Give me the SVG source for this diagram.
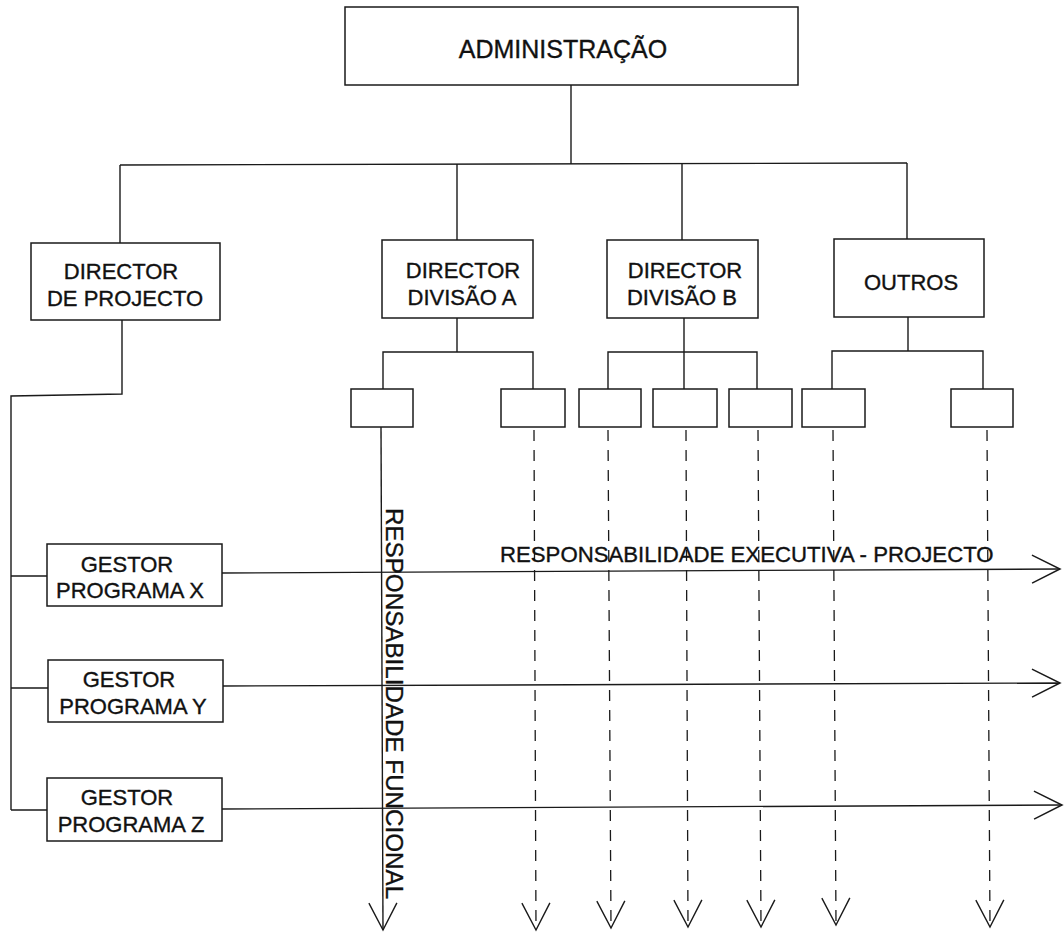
<svg xmlns="http://www.w3.org/2000/svg" width="1064" height="935" viewBox="0 0 1064 935">
<style>
.box{fill:#fff;stroke:#1a1a1a;stroke-width:1.5}
.t{font-family:"Liberation Sans",Arial,sans-serif;font-size:22px;fill:#111;stroke:#111;stroke-width:0.35;text-anchor:middle}
.ln{fill:none;stroke:#1a1a1a;stroke-width:1.4}
.dash{fill:none;stroke:#1a1a1a;stroke-width:1.3;stroke-dasharray:11 9}
</style>
<defs>
<marker id="v" viewBox="-32 -17 36 34" markerWidth="36" markerHeight="34" refX="0" refY="0" orient="auto" markerUnits="userSpaceOnUse">
<path d="M-28,-14 L0,0 L-28,14" fill="none" stroke="#1a1a1a" stroke-width="1.5" stroke-dasharray="none"/>
</marker>
<marker id="vd" viewBox="-32 -17 36 34" markerWidth="36" markerHeight="34" refX="0" refY="0" orient="auto" markerUnits="userSpaceOnUse">
<path d="M-27,-14 L0,0 L-27,14" fill="none" stroke="#1a1a1a" stroke-width="1.4" stroke-dasharray="none"/>
</marker>
</defs>
<rect width="1064" height="935" fill="#fff"/>
<g id="connectors">
<path class="ln" d="M571,85 V164"/>
<path class="ln" d="M120,165 L907,163"/>
<path class="ln" d="M120,165 V243 M457,164 V240 M682,164 V240 M907,163 V239"/>
<path class="ln" d="M122,320 V394 L11,396 V810"/>
<path class="ln" d="M11,576 H47 M11,688 H48 M11,810 H47"/>
<path class="ln" d="M457,318 V352 M383,389 V352 H533 V389"/>
<path class="ln" d="M684,318 V389 M608,389 V352 H757 V389"/>
<path class="ln" d="M908,317 V351 M832,389 V351 H983 V389"/>
<path class="ln" d="M381,427 L383,930" marker-end="url(#vd)"/>
<path class="ln" d="M222,573 L1060,569" marker-end="url(#v)"/>
<path class="ln" d="M223,686 L1060,683" marker-end="url(#v)"/>
<path class="ln" d="M222,809 L1062,805" marker-end="url(#v)"/>
<path class="dash" d="M534,430 L536,930" marker-end="url(#vd)"/>
<path class="dash" d="M608,430 L611,928" marker-end="url(#vd)"/>
<path class="dash" d="M686,430 L688,927" marker-end="url(#vd)"/>
<path class="dash" d="M758,430 L761,927" marker-end="url(#vd)"/>
<path class="dash" d="M833,430 L836,925" marker-end="url(#vd)"/>
<path class="dash" d="M987,430 L990,927" marker-end="url(#vd)"/>
</g>
<g id="administracao"><rect class="box" x="345" y="7" width="453" height="78"/><text class="t" x="563" y="58" style="font-size:25px">ADMINISTRAÇÃO</text></g>
<g id="director-projecto"><rect class="box" x="31" y="243" width="189" height="77"/><text class="t" x="121" y="279">DIRECTOR</text><text class="t" x="125" y="306">DE PROJECTO</text></g>
<g id="director-a"><rect class="box" x="382" y="240" width="151" height="78"/><text class="t" x="463" y="278">DIRECTOR</text><text class="t" x="462" y="305">DIVISÃO A</text></g>
<g id="director-b"><rect class="box" x="607" y="240" width="151" height="78"/><text class="t" x="685" y="278">DIRECTOR</text><text class="t" x="682" y="305">DIVISÃO B</text></g>
<g id="outros"><rect class="box" x="834" y="239" width="150" height="78"/><text class="t" x="911" y="290">OUTROS</text></g>
<g id="sub-a1"><rect class="box" x="351" y="389" width="62" height="38"/></g>
<g id="sub-a2"><rect class="box" x="501" y="389" width="64" height="38"/></g>
<g id="sub-b1"><rect class="box" x="579" y="389" width="62" height="38"/></g>
<g id="sub-b2"><rect class="box" x="653" y="389" width="64" height="38"/></g>
<g id="sub-b3"><rect class="box" x="729" y="389" width="63" height="38"/></g>
<g id="sub-o1"><rect class="box" x="802" y="389" width="63" height="38"/></g>
<g id="sub-o2"><rect class="box" x="951" y="389" width="62" height="38"/></g>
<g id="gestor-x"><rect class="box" x="47" y="544" width="175" height="62"/><text class="t" x="127" y="572">GESTOR</text><text class="t" x="130" y="598">PROGRAMA X</text></g>
<g id="gestor-y"><rect class="box" x="48" y="660" width="175" height="62"/><text class="t" x="129" y="687">GESTOR</text><text class="t" x="133" y="714">PROGRAMA Y</text></g>
<g id="gestor-z"><rect class="box" x="47" y="778" width="175" height="63"/><text class="t" x="127" y="805">GESTOR</text><text class="t" x="131" y="832">PROGRAMA Z</text></g>
<g id="labels">
<text class="t" x="500" y="562" style="text-anchor:start;font-size:22.2px">RESPONSABILIDADE EXECUTIVA - PROJECTO</text>
<text class="t" transform="translate(386,508) rotate(90)" x="0" y="0" style="text-anchor:start;font-size:24.2px">RESPONSABILIDADE FUNCIONAL</text>
</g>
</svg>
